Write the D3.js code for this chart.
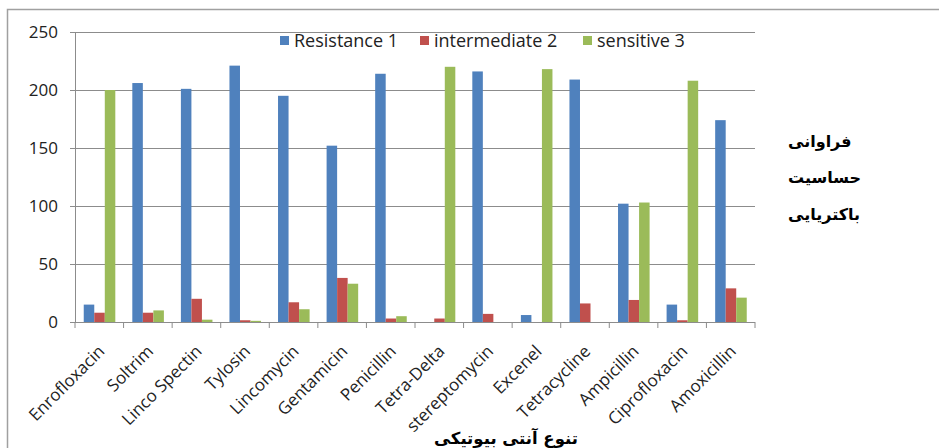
<!DOCTYPE html>
<html>
<head>
<meta charset="utf-8">
<script src="https://cdn.jsdelivr.net/npm/d3@7"></script>
<style>
body{margin:0;background:#fff;}
</style>
</head>
<body>
<svg width="939" height="448"></svg>
<script>
// data
const drugs = ['Enrofloxacin','Soltrim','Linco Spectin','Tylosin','Lincomycin','Gentamicin','Penicillin',
    'Tetra-Delta','stereptomycin','Excenel','Tetracycline','Ampicillin','Ciprofloxacin','Amoxicillin'];
const resistance   = [15, 206, 201, 221, 195, 152, 214, 0, 216, 6, 209, 102, 15, 174];
const intermediate = [8, 8, 20, 1.5, 17, 38, 3, 3, 7, 0, 16, 19, 1.5, 29];
const sensitive    = [200, 10, 2, 1, 11, 33, 5, 220, 0, 218, 0, 103, 208, 21];
const seriesNames  = ['Resistance 1','intermediate 2','sensitive 3'];
const colors       = ['#4F81BD','#C0504D','#9BBB59'];
const yTicks       = [0, 50, 100, 150, 200, 250];

function Start(){
    const svg = d3.select('svg');
    const margin = { top:32, left:75, right:184, bottom:126 };
    const width = +svg.attr('width'), height = +svg.attr('height');
    const innerWidth = width - margin.left - margin.right;
    const innerHeight = height - margin.top - margin.bottom;

    // outer chart border (only top and left visible)
    svg.append('path').attr('d','M7.5,448 V9.5 H939')
        .attr('fill','none').attr('stroke','#a0a0a0').attr('stroke-width',1.5);

    const rows = drugs.map((d,i) => ({ name:d, vals:[resistance[i], intermediate[i], sensitive[i]] }));

    const x = d3.scaleBand().domain(drugs).range([0, innerWidth]).paddingInner(0).paddingOuter(0);
    const xs = d3.scaleBand().domain([0,1,2]).range([x.bandwidth()*0.18, x.bandwidth()*0.83]);
    const y = d3.scaleLinear().domain([0,250]).range([innerHeight,0]);

    const g = svg.append('g').attr('transform',`translate(${margin.left},${margin.top})`);

    // gridlines
    g.append('g').selectAll('line').data(yTicks.slice(1)).enter().append('line')
        .attr('x1',0).attr('x2',innerWidth)
        .attr('y1',d => Math.round(y(d))+0.5).attr('y2',d => Math.round(y(d))+0.5)
        .attr('stroke','#8c8c8c').attr('stroke-width',1);

    // y axis
    const ya = g.append('g').call(d3.axisLeft(y).tickValues(yTicks).tickSize(5).tickPadding(12));
    ya.select('.domain').attr('stroke','#8c8c8c');
    ya.selectAll('.tick line').attr('stroke','#8c8c8c');
    ya.selectAll('text').attr('font-family','Open Sans').attr('font-size',17).attr('fill','#222');

    // bars
    const groups = g.selectAll('.grp').data(rows).enter().append('g')
        .attr('transform', d => `translate(${x(d.name)},0)`);
    groups.selectAll('rect').data(d => d.vals).enter().append('rect')
        .attr('x',(d,i) => xs(i))
        .attr('y',d => y(d))
        .attr('width',xs.bandwidth())
        .attr('height',d => innerHeight - y(d))
        .attr('fill',(d,i) => colors[i]);

    // x axis with ticks at category boundaries
    const xa = g.append('g').attr('transform',`translate(0,${innerHeight})`);
    xa.append('line').attr('x1',0).attr('x2',innerWidth).attr('y1',0.5).attr('y2',0.5).attr('stroke','#8c8c8c');
    xa.selectAll('.tk').data(d3.range(drugs.length+1)).enter().append('line')
        .attr('x1',i => i*x.step()).attr('x2',i => i*x.step())
        .attr('y1',0).attr('y2',6).attr('stroke','#8c8c8c');
    xa.selectAll('.lbl').data(drugs).enter().append('text')
        .attr('transform',d => `translate(${x(d)+x.bandwidth()/2-2},${22}) rotate(-45)`)
        .attr('text-anchor','end')
        .attr('dy','0.7em')
        .attr('font-family','Open Sans').attr('font-size',17).attr('fill','#222')
        .text(d => d);

    // legend
    const legX = [280, 420, 583];
    const leg = svg.append('g').selectAll('g').data(seriesNames).enter().append('g')
        .attr('transform',(d,i) => `translate(${legX[i]},36)`);
    leg.append('rect').attr('width',9).attr('height',9).attr('fill',(d,i) => colors[i]);
    leg.append('text').attr('x',14).attr('y',5).attr('dy','0.35em')
        .attr('font-family','Open Sans').attr('font-size',18).attr('fill','#222')
        .text(d => d);

    // right-side Persian title (y axis)
    const yTitle = ['فراوانی','حساسیت','باکتریایی'];
    svg.append('g').selectAll('text').data(yTitle).enter().append('text')
        .attr('x',788).attr('y',(d,i) => [141,177,214][i]).attr('dy','0.35em')
        .attr('font-family','DejaVu Sans').attr('font-weight','bold').attr('font-size',16).attr('fill','#000')
        .text(d => d);

    // bottom Persian title (x axis)
    svg.append('text').attr('x',506).attr('y',438).attr('dy','0.35em')
        .attr('text-anchor','middle')
        .attr('font-family','DejaVu Sans').attr('font-weight','bold').attr('font-size',16.5).attr('fill','#000')
        .text('تنوع آنتی بیوتیکی');
}
Start();
</script>
</body>
</html>
